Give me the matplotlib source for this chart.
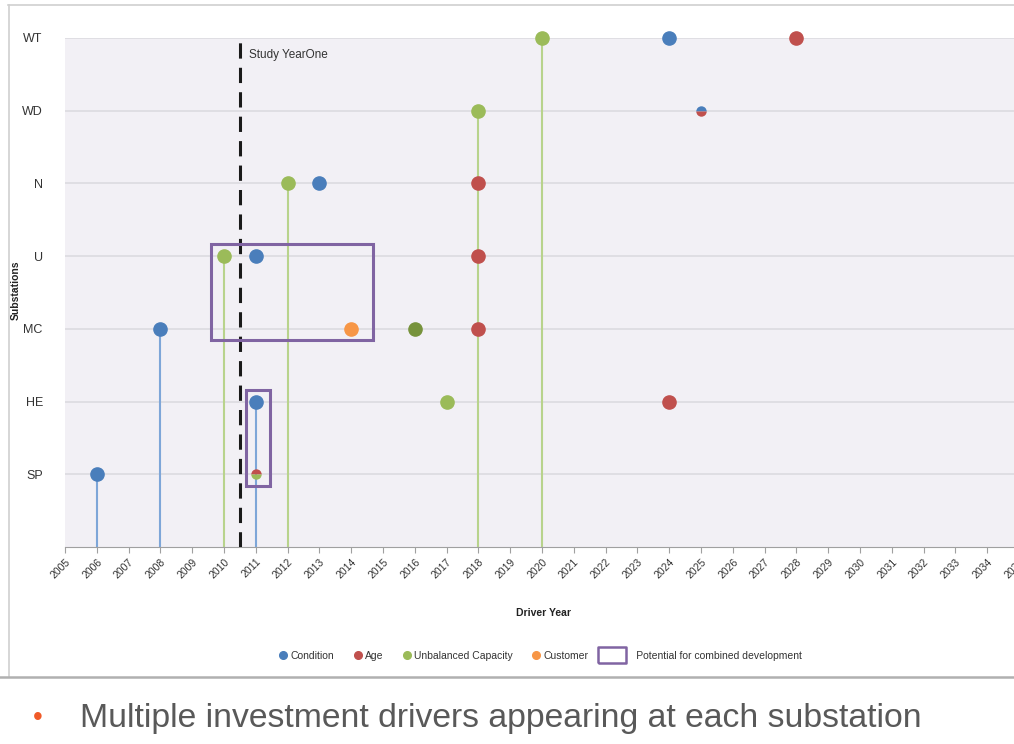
import matplotlib
matplotlib.use("Agg")
import matplotlib.pyplot as plt
from matplotlib.lines import Line2D
from matplotlib.patches import Rectangle

plt.rcParams['font.family'] = ['Liberation Sans', 'DejaVu Sans']

# ---- data ----
stations = ['SP', 'HE', 'MC', 'U', 'N', 'WD', 'WT']
years = list(range(2005, 2036))

condition_station = ['WT', 'N', 'U', 'MC', 'HE', 'SP']
condition_year = [2024, 2013, 2011, 2008, 2011, 2006]

age_station = ['WT', 'N', 'U', 'MC', 'HE']
age_year = [2028, 2018, 2018, 2018, 2024]

capacity_station = ['WT', 'WD', 'N', 'U', 'HE']
capacity_year = [2020, 2018, 2012, 2010, 2017]

capacity_dark_station = ['MC']
capacity_dark_year = [2016]

customer_station = ['MC']
customer_year = [2014]

# shared points (two drivers at the same station/year): top colour, bottom colour
shared_station = ['WD', 'SP']
shared_year = [2025, 2011]
shared_top = ['Condition', 'Age']
shared_bottom = ['Age', 'Unbalanced Capacity']

# drop lines from the axis to a point
stem_station = ['SP', 'MC', 'U', 'HE', 'N', 'WD', 'WT']
stem_year = [2006, 2008, 2010, 2011, 2012, 2018, 2020]
stem_driver = ['Condition', 'Condition', 'Unbalanced Capacity', 'Condition',
               'Unbalanced Capacity', 'Unbalanced Capacity', 'Unbalanced Capacity']

study_year_one = 2010.5

# boxes marking potential combined development
box_x = [(2009.6, 2014.7), (2010.7, 2011.45)]
box_y = [(2.85, 4.165), (0.835, 2.165)]

colors = {'Condition': '#4a7ebb', 'Age': '#c0504d',
          'Unbalanced Capacity': '#9bbb59', 'Customer': '#f79646'}
stem_colors = {'Condition': '#7ea6d8', 'Unbalanced Capacity': '#b8d38c'}
dark_green = '#77933c'
purple = '#8064a2'

ypos = {s: i + 1 for i, s in enumerate(stations)}

fig = plt.figure(figsize=(10.14, 7.44), dpi=100)
ax = fig.add_axes([65 / 1014, 1 - 547 / 744, (1019 - 65) / 1014, (547 - 38) / 744])
ax.set_facecolor('#f2f0f5')
ax.set_xlim(2005, 2035)
ax.set_ylim(0, 7)

for s in stations:
    ax.axhline(ypos[s], color='#dcdbe0', lw=1.2, zorder=1)

for st, yr, d in zip(stem_station, stem_year, stem_driver):
    ax.plot([yr, yr], [0, ypos[st]], color=stem_colors[d], lw=1.5, zorder=2)

ms = 9.5
def pts(st_list, yr_list, c):
    ax.plot(yr_list, [ypos[s] for s in st_list], 'o', color=c, ms=ms, mec=c, zorder=4,
            clip_on=False)

pts(condition_station, condition_year, colors['Condition'])
pts(age_station, age_year, colors['Age'])
pts(capacity_station, capacity_year, colors['Unbalanced Capacity'])
pts(capacity_dark_station, capacity_dark_year, dark_green)
pts(customer_station, customer_year, colors['Customer'])

for st, yr, t, b in zip(shared_station, shared_year, shared_top, shared_bottom):
    ax.plot([yr], [ypos[st]], 'o', ms=7.5, fillstyle='top', markerfacecolor=colors[t],
            markerfacecoloralt=colors[b], markeredgewidth=0, zorder=4)

ax.plot([study_year_one, study_year_one], [0, 7], color='#1a1a1a', lw=2.2,
        ls=(0, (5, 3)), zorder=5)
ax.text(study_year_one + 0.3, 6.76, 'Study YearOne', fontsize=8.5, color='#333333',
        va='center', ha='left')

for (x0, x1), (y0, y1) in zip(box_x, box_y):
    ax.add_patch(Rectangle((x0, y0), x1 - x0, y1 - y0, fill=False, ec=purple, lw=2.2,
                           zorder=6))

ax.set_yticks([ypos[s] for s in stations])
ax.set_yticklabels(stations, fontsize=9, color='#333333')
ax.tick_params(axis='y', length=0, pad=16)
ax.set_xticks(years)
ax.set_xticklabels([str(y) for y in years], rotation=45, ha='right',
                   rotation_mode='anchor', fontsize=7.5, color='#333333')
ax.tick_params(axis='x', direction='out', length=4, color='#a0a0a0', pad=3)
for sp in ['top', 'right', 'left']:
    ax.spines[sp].set_visible(False)
ax.spines['bottom'].set_color('#a0a0a0')

fig.text(543 / 1014, 1 - 613 / 744, 'Driver Year', fontsize=7.5, fontweight='bold',
         ha='center', va='center', color='#222222')
fig.text(16 / 1014, 1 - 290 / 744, 'Substations', fontsize=7.5, fontweight='bold',
         rotation=90, ha='center', va='center', color='#222222')

rect_marker = [(-1.8, -1), (1.8, -1), (1.8, 1), (-1.8, 1), (-1.8, -1)]
handles = [Line2D([], [], marker='o', ls='', color=colors[k], ms=5.5)
           for k in ['Condition', 'Age', 'Unbalanced Capacity', 'Customer']]
handles.append(Line2D([], [], marker=rect_marker, ls='', ms=20, mfc='none',
                      mec=purple, mew=1.8))
labels = ['Condition', 'Age', 'Unbalanced Capacity', 'Customer',
          '      Potential for combined development']
fig.legend(handles, labels, loc='center', bbox_to_anchor=(540 / 1014, 1 - 656 / 744),
           ncol=5, frameon=False, fontsize=7.5, handletextpad=0.15, columnspacing=1.8,
           handlelength=1.0, labelcolor='#333333')

# frame and divider
fig.add_artist(Line2D([8 / 1014, 1], [1 - 5 / 744, 1 - 5 / 744], color='#d0d0d0', lw=1.2))
fig.add_artist(Line2D([9 / 1014, 9 / 1014], [1 - 5 / 744, 1 - 676 / 744], color='#d0d0d0', lw=1.2))
fig.add_artist(Line2D([0, 1], [1 - 677 / 744, 1 - 677 / 744], color='#b0b0b0', lw=1.8))

fig.text(38 / 1014, 1 - 718 / 744, '•', fontsize=20, color='#f05a28', ha='center', va='center')
fig.text(80 / 1014, 1 - 718 / 744, 'Multiple investment drivers appearing at each substation',
         fontsize=24.3, color='#595959', ha='left', va='center')

fig.savefig('out.png', dpi=100)
